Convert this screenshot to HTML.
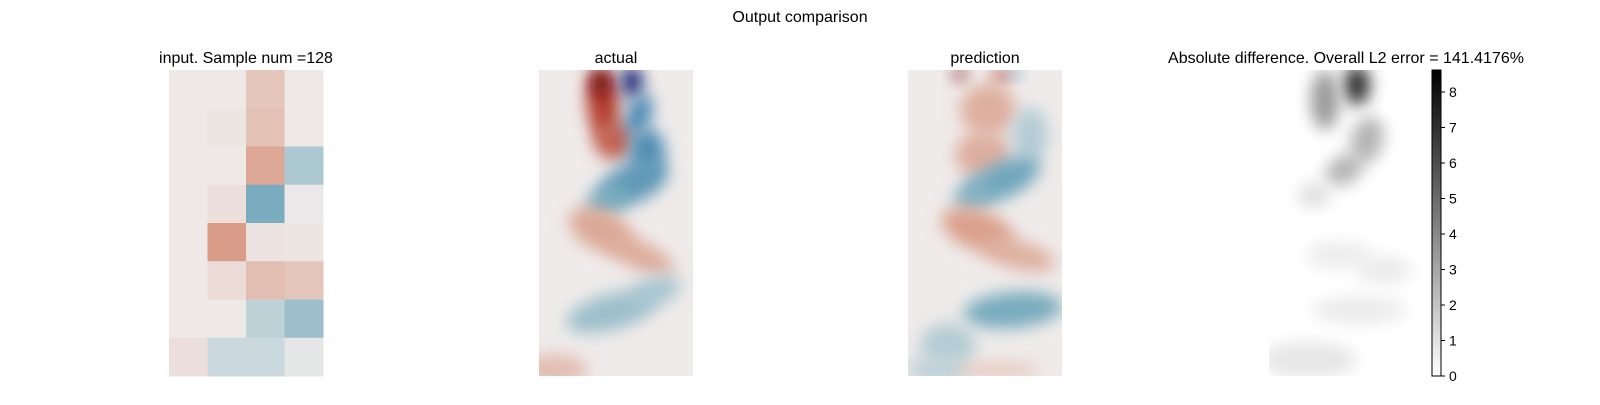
<!DOCTYPE html>
<html><head><meta charset="utf-8">
<style>
body{margin:0;background:#fff;}
svg text{font-family:"Liberation Sans","DejaVu Sans",sans-serif;fill:#000;}
</style></head>
<body>
<svg id="fig" width="1600" height="400" viewBox="0 0 1600 400" xmlns="http://www.w3.org/2000/svg">
<defs>
<filter id="b8" x="-100%" y="-100%" width="300%" height="300%"><feGaussianBlur stdDeviation="8"/></filter>
<clipPath id="cA"><rect x="539" y="70" width="154" height="306"/></clipPath>
<clipPath id="cP"><rect x="908" y="70" width="154" height="306"/></clipPath>
<clipPath id="cD"><rect x="1269" y="70" width="154" height="306"/></clipPath>
<linearGradient id="gray" x1="0" y1="1" x2="0" y2="0"><stop offset="0" stop-color="#fff"/><stop offset="1" stop-color="#000"/></linearGradient>
</defs>
<text x="800" y="22" font-size="16" text-anchor="middle">Output comparison</text>
<text x="246" y="63" font-size="16" text-anchor="middle">input. Sample num =128</text>
<text x="616" y="63" font-size="16" text-anchor="middle">actual</text>
<text x="985" y="63" font-size="16" text-anchor="middle">prediction</text>
<text x="1346" y="63" font-size="16" text-anchor="middle">Absolute difference. Overall L2 error = 141.4176%</text>
<g id="input"></g>
<g clip-path="url(#cA)">
<rect x="539" y="70" width="154" height="306" fill="#efebea"/>
<g id="actualBlobs"></g>
</g>
<g clip-path="url(#cP)">
<rect x="908" y="70" width="154" height="306" fill="#efebea"/>
<g id="predBlobs"></g>
</g>
<g clip-path="url(#cD)">
<rect x="1269" y="70" width="154" height="306" fill="#fff"/>
<g id="diffBlobs"></g>
</g>
<g>
<rect x="1432" y="70" width="9" height="306" fill="url(#gray)" stroke="#000" stroke-width="1"/>
<g id="cbTicks"></g>
</g>
</svg>
<script>
const inputValues = [
 [0.02,0.02,0.25,0.02],
 [0.02,0.04,0.28,0.02],
 [0.02,0.02,0.45,-0.28],
 [0.02,0.08,-0.5,-0.02],
 [0.02,0.52,0.06,0.04],
 [0.02,0.1,0.3,0.25],
 [0.02,0.02,-0.2,-0.35],
 [0.08,-0.15,-0.15,-0.04]
];
const cbTickLabels = [0,1,2,3,4,5,6,7,8];
const cbMax = 8.62;
// blobs: [x, y, rx, ry, value, rotation] in panel-local units (154x306)
const actualBlobs = [
 [64,35,16,35,1.0,-5],[62,12,10,14,1.5,0],[75,70,20,20,0.8,0],
 [93,12,10,16,-1.6,0],[100,45,12,22,-0.8,20],[108,82,18,24,-0.75,0],
 [95,112,36,20,-0.65,-25],[68,130,22,15,-0.5,-30],
 [62,160,34,20,0.45,25],[100,185,38,14,0.42,25],
 [72,242,46,18,-0.35,-15],[115,222,28,14,-0.3,-20],
 [15,300,34,16,0.3,0]
];
const predBlobs = [
 [52,4,6,6,1.4,0],[92,6,7,8,0.9,0],[106,3,5,4,-1.0,0],
 [80,40,28,26,0.4,0],[75,85,28,24,0.4,0],[122,65,18,28,-0.25,0],
 [95,110,40,18,-0.55,-25],[65,125,20,14,-0.45,-30],
 [70,160,38,20,0.5,20],[110,185,38,14,0.4,15],
 [105,240,50,18,-0.5,-5],[40,275,28,22,-0.25,0],[30,300,32,14,-0.2,0],[90,300,42,7,0.25,0]
];
const diffBlobs = [
 [88,15,13,20,0.8,0],[56,30,14,30,0.4,0],[98,70,16,24,0.3,15],[75,100,20,14,0.3,-30],[45,125,16,12,0.13,0],
 [70,185,34,14,0.07,0],[115,200,28,14,0.08,0],[90,240,48,14,0.08,0],[40,290,48,18,0.1,0]
];
function divColor(v){
  const bg=[239,235,234];
  const pos=[[218,160,140],[180,60,45],[110,10,20]];
  const neg=[[120,172,190],[40,110,170],[15,30,110]];
  const arr=v>=0?pos:neg;let a=Math.min(Math.abs(v),1.5);
  let c0,c1,t;
  if(a<0.5){c0=bg;c1=arr[0];t=a/0.5;}else if(a<1){c0=arr[0];c1=arr[1];t=(a-0.5)/0.5;}else{c0=arr[1];c1=arr[2];t=(a-1)/0.5;}
  return 'rgb('+c0.map((x,i)=>Math.round(x+(c1[i]-x)*t)).join(',')+')';
}
const NS='http://www.w3.org/2000/svg';
const inp=document.getElementById('input');
const ix=169,iy=70,cw=154/4,ch=306/8;
inputValues.forEach((row,r)=>row.forEach((v,c)=>{
  const el=document.createElementNS(NS,'rect');
  
  
  el.setAttribute('x',ix+c*cw);el.setAttribute('y',iy+r*ch);
  el.setAttribute('width',cw+0.5);el.setAttribute('height',ch+0.5);
  el.setAttribute('fill',divColor(v));inp.appendChild(el);
}));
function drawBlobs(gid,data,ox,colorFn){
  const g=document.getElementById(gid);
  data.forEach(b=>{
    const el=document.createElementNS(NS,'ellipse');
    
    
    el.setAttribute('cx',ox+b[0]);el.setAttribute('cy',70+b[1]);
    el.setAttribute('rx',b[2]);el.setAttribute('ry',b[3]);
    el.setAttribute('transform','rotate('+b[5]+' '+(ox+b[0])+' '+(70+b[1])+')');
    el.setAttribute('fill',colorFn(b[4]));el.setAttribute('filter','url(#b8)');
    g.appendChild(el);
  });
}
drawBlobs('actualBlobs',actualBlobs,539,divColor);
drawBlobs('predBlobs',predBlobs,908,divColor);
drawBlobs('diffBlobs',diffBlobs,1269,v=>{const k=Math.round(255*(1-v));return 'rgb('+k+','+k+','+k+')';});
const cb=document.getElementById('cbTicks');
cbTickLabels.forEach(t=>{
  const y=376-306*t/cbMax;
  const ln=document.createElementNS(NS,'line');
  
  
  ln.setAttribute('x1',1441);ln.setAttribute('x2',1445);ln.setAttribute('y1',y);ln.setAttribute('y2',y);
  ln.setAttribute('stroke','#000');cb.appendChild(ln);
  const tx=document.createElementNS(NS,'text');
  
  
  tx.setAttribute('x',1449);tx.setAttribute('y',y+5);tx.setAttribute('font-size','14');
  tx.textContent=t;cb.appendChild(tx);
});
</script>
</body></html>
